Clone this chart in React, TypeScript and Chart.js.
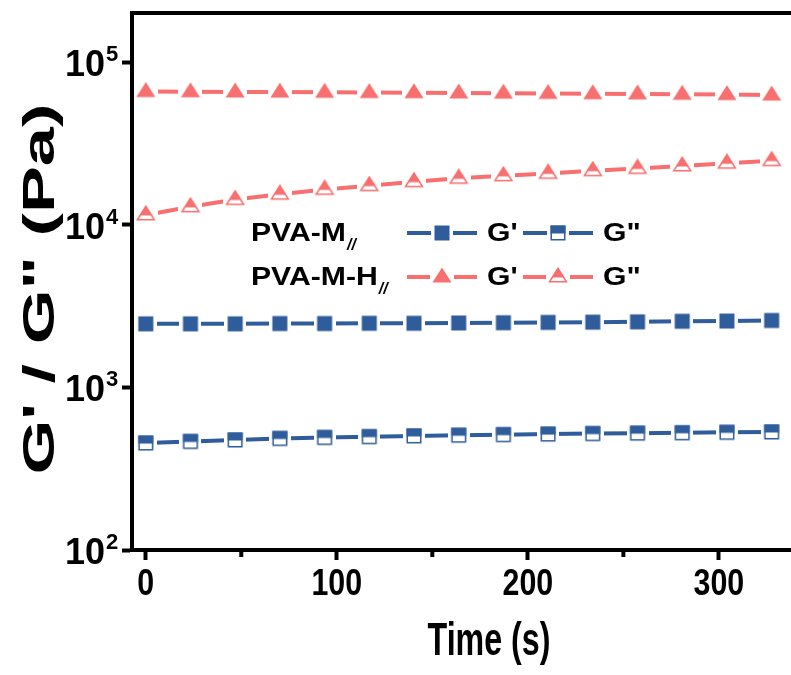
import React, { useEffect, useRef } from 'react';
import { Chart, registerables } from 'chart.js';

Chart.register(...registerables);

// ---- data ----
const TIME = [0, 23.4, 46.8, 70.2, 93.6, 117, 140.4, 163.8, 187.2, 210.6, 234, 257.4, 280.8, 304.2, 327.6];
const GP_M = [2460, 2460, 2460, 2470, 2470, 2480, 2480, 2490, 2500, 2510, 2520, 2530, 2550, 2560, 2580];
const GPP_M = [455, 465, 475, 485, 492, 498, 503, 508, 512, 516, 520, 523, 526, 529, 532];
const GP_H = [66000, 65800, 65600, 65500, 65300, 65100, 64900, 64700, 64500, 64300, 64000, 63800, 63500, 63200, 62800];
const GPP_H = [11500, 12900, 14300, 15400, 16500, 17400, 18400, 19300, 20000, 20700, 21500, 22200, 23000, 23900, 24800];

const X_TICKS = [0, 100, 200, 300];
const X_MINOR = [50, 150, 250];
const Y_TICKS = [100, 1000, 10000, 100000];
const X_TITLE = 'Time (s)';
const Y_TITLE = 'G\' / G" (Pa)';
const ROW_LABELS = ['PVA-M', 'PVA-M-H'];
const ITEM_LABELS = ["G'", 'G"'];

const BLUE = '#2F5C9A';
const RED = '#F76F6F';
const FONT = '"Liberation Sans", Arial, Helvetica, sans-serif';

function makeSquare(color: string, half: boolean) {
  const c = document.createElement('canvas');
  const W = 22, H = 18, s = 15;
  c.width = W; c.height = H;
  const g = c.getContext('2d')!;
  g.fillStyle = '#ffffff';
  g.fillRect(0, 0, W, H);
  const x0 = (W - s) / 2, y0 = (H - s) / 2;
  g.fillStyle = color;
  if (!half) {
    g.fillRect(x0, y0, s, s);
  } else {
    g.fillRect(x0, y0, s, s / 2 + 0.5);
    g.strokeStyle = color;
    g.lineWidth = 1.5;
    g.strokeRect(x0 + 0.75, y0 + 0.75, s - 1.5, s - 1.5);
  }
  return c;
}

function makeTriangle(color: string, half: boolean) {
  const c = document.createElement('canvas');
  const W = 24, H = 20;
  c.width = W; c.height = H;
  const g = c.getContext('2d')!;
  g.fillStyle = '#ffffff';
  g.fillRect(0, 0, W, H);
  const cx = W / 2, top = 0.5, base = 15.5, hw = 9.5;
  g.beginPath();
  g.moveTo(cx, top);
  g.lineTo(cx + hw, base);
  g.lineTo(cx - hw, base);
  g.closePath();
  if (!half) {
    g.fillStyle = color;
    g.fill();
  } else {
    const midY = 10.5;
    const w = (hw * (midY - top)) / (base - top);
    g.fillStyle = color;
    g.beginPath();
    g.moveTo(cx, top);
    g.lineTo(cx + w, midY);
    g.lineTo(cx - w, midY);
    g.closePath();
    g.fill();
    g.beginPath();
    g.moveTo(cx, top + 1);
    g.lineTo(cx + hw - 1, base - 0.75);
    g.lineTo(cx - hw + 1, base - 0.75);
    g.closePath();
    g.strokeStyle = color;
    g.lineWidth = 1.5;
    g.stroke();
  }
  return c;
}

function txt(ctx: CanvasRenderingContext2D, s: string, x: number, y: number, font: string,
  align: CanvasTextAlign, baseline: CanvasTextBaseline, sx = 1) {
  ctx.save();
  ctx.translate(x, y);
  ctx.scale(sx, 1);
  ctx.font = font;
  ctx.textAlign = align;
  ctx.textBaseline = baseline;
  ctx.fillStyle = '#000';
  ctx.fillText(s, 0, 0);
  const w = ctx.measureText(s).width * sx;
  ctx.restore();
  return w;
}

export default function App() {
  const ref = useRef<HTMLCanvasElement>(null);

  useEffect(() => {
    const canvas = ref.current!;
    const mSqF = makeSquare(BLUE, false);
    const mSqH = makeSquare(BLUE, true);
    const mTrF = makeTriangle(RED, false);
    const mTrH = makeTriangle(RED, true);

    const pts = (arr: number[]) => TIME.map((t, i) => ({ x: t, y: arr[i] }));

    const deco = {
      id: 'deco',
      beforeDraw(chart: any) {
        const ctx = chart.ctx;
        ctx.save();
        ctx.fillStyle = '#ffffff';
        ctx.fillRect(0, 0, chart.width, chart.height);
        ctx.restore();
      },
      afterDraw(chart: any) {
        const ctx: CanvasRenderingContext2D = chart.ctx;
        const a = chart.chartArea;
        const xs = chart.scales.x;
        const ys = chart.scales.y;
        ctx.save();
        ctx.strokeStyle = '#000';
        ctx.lineWidth = 4;
        ctx.beginPath();
        ctx.moveTo(a.left - 2, a.top);
        ctx.lineTo(a.right, a.top);
        ctx.stroke();
        X_MINOR.forEach((v) => {
          const px = xs.getPixelForValue(v);
          ctx.beginPath();
          ctx.moveTo(px, a.bottom);
          ctx.lineTo(px, a.bottom + 7);
          ctx.stroke();
        });
        ctx.restore();

        // x tick labels
        X_TICKS.forEach((v) => {
          txt(ctx, String(v), xs.getPixelForValue(v), 595, `bold 37px ${FONT}`, 'center', 'alphabetic', 0.82);
        });
        // y tick labels 10^n
        Y_TICKS.forEach((v) => {
          const py = ys.getPixelForValue(v);
          const e = String(Math.round(Math.log10(v)));
          txt(ctx, '10', 105, py + 14, `bold 36px ${FONT}`, 'right', 'alphabetic', 1);
          txt(ctx, e, 106, py - 1, `bold 22px ${FONT}`, 'left', 'alphabetic', 1);
        });
        // x title
        txt(ctx, X_TITLE, 489, 655, `bold 46px ${FONT}`, 'center', 'alphabetic', 0.7);
        // y title
        ctx.save();
        ctx.translate(54, 289);
        ctx.rotate(-Math.PI / 2);
        ctx.scale(1.6, 1);
        ctx.font = `bold 44px ${FONT}`;
        ctx.textAlign = 'center';
        ctx.textBaseline = 'alphabetic';
        ctx.fillStyle = '#000';
        ctx.fillText(Y_TITLE, 0, 0);
        ctx.restore();

        // legend
        const rows = [
          { label: ROW_LABELS[0], y: 233, base: 241, color: BLUE, m: [mSqF, mSqH] },
          { label: ROW_LABELS[1], y: 277, base: 285, color: RED, m: [mTrF, mTrH] },
        ];
        rows.forEach((r) => {
          const w = txt(ctx, r.label, 251, r.base, `bold 26px ${FONT}`, 'left', 'alphabetic', 1.16);
          txt(ctx, '//', 251 + w + 1, r.base + 9, `italic bold 16px ${FONT}`, 'left', 'alphabetic', 1);
          const samples = [{ x1: 407, x2: 477, tx: 487 }, { x1: 523, x2: 593, tx: 603 }];
          samples.forEach((s, k) => {
            ctx.save();
            ctx.strokeStyle = r.color;
            ctx.lineWidth = 4;
            ctx.beginPath();
            ctx.moveTo(s.x1, r.y);
            ctx.lineTo(s.x2, r.y);
            ctx.stroke();
            const mk = r.m[k];
            ctx.drawImage(mk, (s.x1 + s.x2) / 2 - mk.width / 2, r.y - mk.height / 2);
            ctx.restore();
            txt(ctx, ITEM_LABELS[k], s.tx, r.base, `bold 26px ${FONT}`, 'left', 'alphabetic', 1.16);
          });
        });
      },
    };

    const axisCommon = {
      ticks: { display: false },
      grid: { display: true, drawOnChartArea: false, drawTicks: true, tickLength: 10, tickWidth: 4, tickColor: '#000' },
      border: { display: true, width: 4, color: '#000' },
    };

    const chart = new Chart(canvas, {
      type: 'line',
      data: {
        datasets: [
          { label: "PVA-M G'", data: pts(GP_M), borderColor: BLUE, borderWidth: 4, pointStyle: mSqF as any, pointRadius: 7 },
          { label: 'PVA-M G"', data: pts(GPP_M), borderColor: BLUE, borderWidth: 4, pointStyle: mSqH as any, pointRadius: 7 },
          { label: "PVA-M-H G'", data: pts(GP_H), borderColor: RED, borderWidth: 4, pointStyle: mTrF as any, pointRadius: 8 },
          { label: 'PVA-M-H G"', data: pts(GPP_H), borderColor: RED, borderWidth: 4, pointStyle: mTrH as any, pointRadius: 8 },
        ],
      },
      options: {
        animation: false,
        responsive: false,
        devicePixelRatio: 1,
        layout: { padding: { top: 13, left: 0, right: 0, bottom: 0 } },
        plugins: { legend: { display: false }, tooltip: { enabled: false } },
        elements: { line: { tension: 0, fill: false } },
        scales: {
          x: {
            type: 'linear', min: -7.2, max: 341.4,
            afterBuildTicks: (s: any) => { s.ticks = X_TICKS.map((v) => ({ value: v })); },
            afterFit: (s: any) => { s.height = 125; },
            ...axisCommon,
          },
          y: {
            type: 'logarithmic', min: 100, max: 200700,
            afterBuildTicks: (s: any) => { s.ticks = Y_TICKS.map((v) => ({ value: v })); },
            afterFit: (s: any) => { s.width = 132; },
            ...axisCommon,
          },
        },
      } as any,
      plugins: [deco],
    });
    return () => chart.destroy();
  }, []);

  return (
    <div style={{ position: 'fixed', left: 0, top: 0, width: 791, height: 675, overflow: 'hidden', background: '#fff' }}>
      <canvas ref={ref} width={810} height={675} style={{ display: 'block', width: 810, height: 675 }} />
    </div>
  );
}
